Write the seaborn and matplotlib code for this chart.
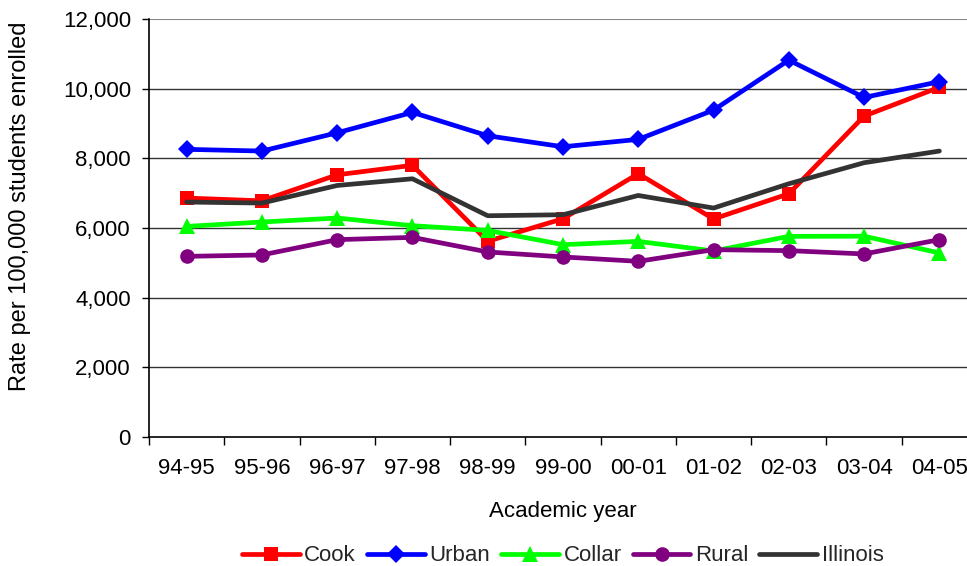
import matplotlib
matplotlib.use("Agg")
import matplotlib.pyplot as plt
import seaborn as sns
import numpy as np
import pandas as pd
from matplotlib.ticker import FuncFormatter, FixedLocator

years = ["94-95", "95-96", "96-97", "97-98", "98-99", "99-00",
         "00-01", "01-02", "02-03", "03-04", "04-05"]
cook = [6860, 6780, 7527, 7800, 5620, 6266, 7560, 6260, 6983, 9212, 10040]
urban = [8258, 8209, 8734, 9319, 8648, 8332, 8544, 9384, 10819, 9748, 10201]
collar = [6046, 6172, 6286, 6066, 5931, 5521, 5616, 5340, 5760, 5765, 5284]
rural = [5186, 5226, 5665, 5731, 5312, 5169, 5043, 5378, 5350, 5255, 5665]
illinois = [6745, 6716, 7221, 7413, 6352, 6381, 6934, 6573, 7270, 7874, 8209]

series_names = ["Cook", "Urban", "Collar", "Rural", "Illinois"]
series_vals = [cook, urban, collar, rural, illinois]

sns.set_theme(style="white")
plt.rcParams['font.family'] = ['Liberation Sans', 'DejaVu Sans']

FS = 16

fig = plt.figure(figsize=(9.67, 5.66), dpi=100)
ax = fig.add_axes([149/967, (566-437)/566, (977-149)/967, (437-19)/566])

styles = {
    "Cook": dict(color="#FF0000", marker="s", markersize=9.5),
    "Urban": dict(color="#0000FF", marker="D", markersize=9),
    "Collar": dict(color="#00FF00", marker="^", markersize=11),
    "Rural": dict(color="#800080", marker="o", markersize=10.5),
    "Illinois": dict(color="#333333", marker=None, markersize=0),
}

xs = np.arange(len(years))
for name, vals in zip(series_names, series_vals):
    st = styles[name]
    df = pd.DataFrame({"x": xs, "y": vals})
    sns.lineplot(data=df, x="x", y="y", ax=ax, color=st["color"],
                 marker=st["marker"], markersize=st["markersize"],
                 markeredgewidth=0, linewidth=3.4, label=name, zorder=3)

ax.set_xlim(-0.5, len(years) - 0.5)
ax.set_ylim(0, 12000)
ax.set_yticks(np.arange(0, 12001, 2000))
ax.yaxis.set_major_formatter(FuncFormatter(lambda v, p: f"{int(v):,}"))
ax.set_xticks(xs)
ax.set_xticklabels(years)
ax.xaxis.set_minor_locator(FixedLocator(np.arange(-0.5, len(years), 1.0)))
ax.tick_params(axis="x", which="major", length=0, pad=15, labelsize=FS, colors="black")
ax.tick_params(axis="x", which="minor", length=6, width=1, color="black", bottom=True)
ax.tick_params(axis="y", which="major", length=5, width=1, color="black", left=True,
               labelsize=FS, pad=8, labelcolor="black")

for v in range(2000, 12001, 2000):
    ax.axhline(v, color="#333333" if v < 12000 else "#888888",
               linewidth=1 if v < 12000 else 1.5, zorder=1)

for s in ["top", "right"]:
    ax.spines[s].set_visible(False)
for s in ["left", "bottom"]:
    ax.spines[s].set_color("black")
    ax.spines[s].set_linewidth(1.2)

ax.set_xlabel("Academic year", fontsize=FS, labelpad=16, color="black")
ax.set_ylabel("Rate per 100,000 students enrolled", fontsize=17, color="black")
ax.yaxis.set_label_coords(-0.142, 0.553)

handles, labels = ax.get_legend_handles_labels()
ax.legend_.remove()
fig.legend(handles, labels, loc="center", bbox_to_anchor=(0.582, 0.018), ncol=5,
           frameon=False, fontsize=FS, handlelength=2.6, handletextpad=0.2,
           columnspacing=0.5, borderaxespad=0, borderpad=0)

fig.savefig("out.png", dpi=100)
